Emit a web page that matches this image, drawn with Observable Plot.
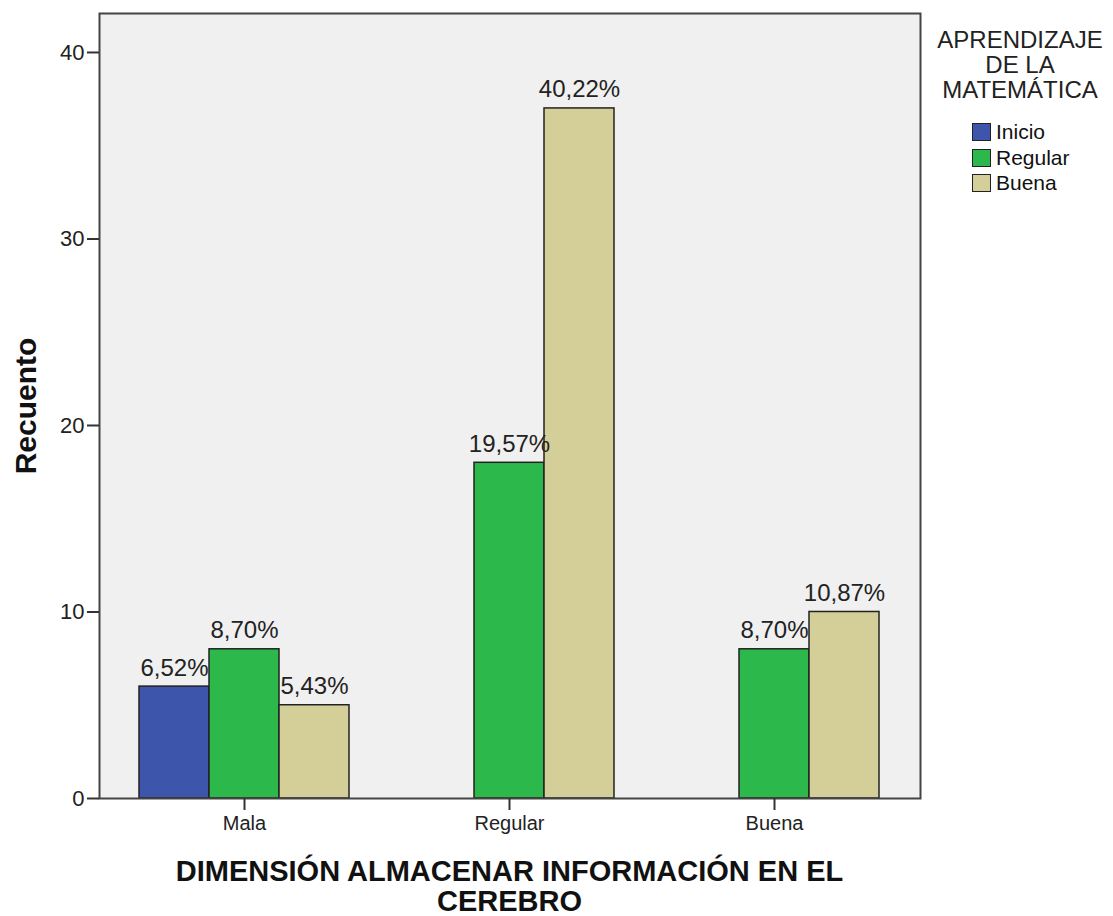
<!DOCTYPE html>
<html>
<head>
<meta charset="utf-8">
<script src="https://cdn.jsdelivr.net/npm/d3@7"></script>
<script src="https://cdn.jsdelivr.net/npm/@observablehq/plot@0.6"></script>
<style>
  body { margin: 0; background: #fff; font-family: "Liberation Sans", Arial, sans-serif; }
  #wrap { position: relative; width: 1113px; height: 916px; }
  #xtitle { position: absolute; left: 99px; width: 821px; top: 850px; padding-top: 7px;
            text-align: center; font-weight: bold; font-size: 29px; line-height: 29.5px; color: #111; }
  #legend { position: absolute; left: 920px; top: 0; width: 193px; }
  #ltitle { position: absolute; left: 5px; width: 190px; top: 27px; text-align: center;
            font-size: 24px; line-height: 25px; color: #222; }
  .sw { position: absolute; width: 17px; height: 16px; border: 1.5px solid #222; }
  .lab { position: absolute; font-size: 21px; line-height: 20px; color: #111; }
</style>
</head>
<body>
<div id="wrap">
  <div id="chart"></div>
  <div id="xtitle">DIMENSIÓN ALMACENAR INFORMACIÓN EN EL<br>CEREBRO</div>
  <div id="legend"><div id="ltitle">APRENDIZAJE<br>DE LA<br>MATEMÁTICA</div></div>
</div>
<script>
// Categories on the x axis (DIMENSIÓN ALMACENAR INFORMACIÓN EN EL CEREBRO)
const dimension = ["Mala", "Regular", "Buena"];
// Legend series (APRENDIZAJE DE LA MATEMÁTICA)
const series = ["Inicio", "Regular", "Buena"];
const seriesColors = ["#3d56ab", "#2db84b", "#d4cf99"];
// Counts per dimension category, one array per series (null = no bar)
const inicioCounts  = [6, null, null];
const regularCounts = [8, 18, 8];
const buenaCounts   = [5, 37, 10];
const yTicks = [0, 10, 20, 30, 40];

const countsBySeries = [inicioCounts, regularCounts, buenaCounts];
const rows = [];
series.forEach((s, si) => {
  dimension.forEach((d, di) => {
    const n = countsBySeries[si][di];
    if (n != null) rows.push({dim: d, serie: s, n});
  });
});
const total = d3.sum(rows, r => r.n);
const pct = r => (r.n / total * 100).toFixed(2).replace(".", ",") + "%";

const font = "Liberation Sans, Arial, sans-serif";
// outer gap between plot frame and first/last facet
const outerL = 40, outerR = 41;

const chart = Plot.plot({
  width: 1113,
  height: 850,
  marginLeft: 99,
  marginRight: 193,
  marginTop: 13,
  marginBottom: 52,
  style: {fontFamily: font, background: "#fff", color: "#222"},
  fx: {domain: dimension, paddingInner: 0.2075, paddingOuter: 0.1528, label: null},
  x: {domain: series, padding: 0, axis: null},
  y: {domain: [0, 42.09], label: null},
  color: {domain: series, range: seriesColors},
  marks: [
    Plot.frame({fill: "#f0f0f0", facet: "super", insetLeft: -outerL, insetRight: -outerR}),
    Plot.barY(rows, {fx: "dim", x: "serie", y: "n", fill: "serie", stroke: "#222", strokeWidth: 1.5, inset: 0}),
    Plot.text(rows, {fx: "dim", x: "serie", y: "n", text: pct, lineAnchor: "bottom", dy: -11, fontSize: 24, fill: "#222"}),
    Plot.frame({stroke: "#444", strokeWidth: 2, facet: "super", insetLeft: -outerL, insetRight: -outerR}),
    Plot.axisY({ticks: yTicks, tickSize: 12, tickPadding: 3, fontSize: 22, label: null, stroke: "#333", strokeWidth: 2, dx: -outerL}),
    Plot.axisFx({anchor: "bottom", tickSize: 12, tickPadding: 5, fontSize: 20, label: null, stroke: "#333", strokeWidth: 2}),
    Plot.text(["Recuento"], {frameAnchor: "left", textAnchor: "middle", lineAnchor: "middle", dx: -113, rotate: -90, fontSize: 30, fontWeight: "bold", fill: "#111", facet: "super"})
  ]
});
document.getElementById("chart").appendChild(chart);

// Legend built from the series arrays
const legend = document.getElementById("legend");
series.forEach((s, i) => {
  const sw = document.createElement("div");
  sw.className = "sw";
  sw.style.left = "52px";
  sw.style.top = (123 + i * 25.5) + "px";
  sw.style.background = seriesColors[i];
  legend.appendChild(sw);
  const lab = document.createElement("div");
  lab.className = "lab";
  lab.style.left = "76px";
  lab.style.top = (122 + i * 25.5) + "px";
  lab.textContent = s;
  legend.appendChild(lab);
});
</script>
</body>
</html>
